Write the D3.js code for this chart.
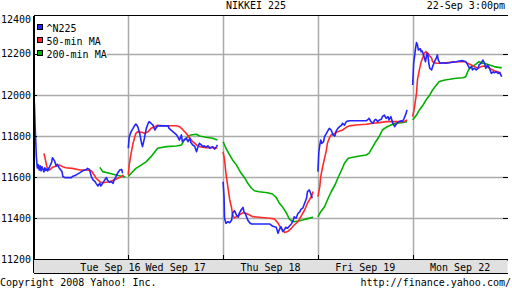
<!DOCTYPE html>
<html><head><meta charset="utf-8">
<script src="https://cdn.jsdelivr.net/npm/d3@7"></script>
<style>
html,body{margin:0;padding:0;background:#fff;}
svg text{font-family:"DejaVu Sans Mono",monospace;font-size:10px;fill:#000;}
</style></head>
<body><svg id="c" width="512" height="288"></svg>
<script>
const title = "NIKKEI 225";
const stamp = "22-Sep 3:00pm";
const days = ["Tue Sep 16","Wed Sep 17","Thu Sep 18","Fri Sep 19","Mon Sep 22"];
const yTicks = [11200,11400,11600,11800,12000,12200,12400];
const seriesNames = ["^N225","50-min MA","200-min MA"];
const seriesColors = ["#2424ff","#ff2b2b","#00b000"];

// each day: [fraction of the trading day, value]
const n225 = [
 [[0,12024],[0.01,11951],[0.02,11815],[0.03,11698],[0.04,11644],[0.05,11660],[0.06,11634],[0.07,11655],[0.08,11630],[0.09,11650],[0.11,11625],[0.12,11645],[0.13,11632],[0.14,11640],[0.15,11630],[0.17,11650],[0.19,11670],[0.2,11694],[0.22,11680],[0.24,11654],[0.25,11662],[0.27,11645],[0.3,11627],[0.31,11602],[0.33,11597],[0.4,11597],[0.41,11602],[0.45,11610],[0.49,11621],[0.52,11630],[0.56,11637],[0.57,11642],[0.59,11637],[0.6,11620],[0.61,11602],[0.63,11585],[0.65,11577],[0.66,11569],[0.68,11556],[0.7,11570],[0.71,11556],[0.73,11570],[0.75,11585],[0.77,11597],[0.78,11585],[0.8,11574],[0.82,11577],[0.84,11569],[0.85,11585],[0.87,11602],[0.89,11621],[0.91,11634],[0.93,11637],[0.94,11618]],
 [[0,11740],[0.01,11796],[0.03,11821],[0.05,11837],[0.07,11853],[0.08,11858],[0.1,11845],[0.12,11813],[0.14,11764],[0.15,11748],[0.17,11789],[0.19,11837],[0.21,11862],[0.22,11870],[0.24,11862],[0.26,11853],[0.28,11829],[0.29,11837],[0.31,11849],[0.35,11849],[0.42,11849],[0.43,11837],[0.47,11821],[0.51,11805],[0.54,11780],[0.56,11805],[0.57,11772],[0.61,11789],[0.63,11772],[0.65,11789],[0.66,11768],[0.68,11756],[0.7,11750],[0.72,11723],[0.73,11740],[0.75,11764],[0.77,11756],[0.79,11748],[0.8,11752],[0.82,11745],[0.84,11752],[0.86,11740],[0.89,11748],[0.91,11736],[0.93,11748],[0.94,11756]],
 [[0,11577],[0.01,11504],[0.015,11399],[0.03,11374],[0.05,11382],[0.07,11377],[0.09,11390],[0.1,11423],[0.12,11436],[0.14,11415],[0.16,11404],[0.17,11423],[0.19,11439],[0.21,11452],[0.22,11431],[0.24,11415],[0.26,11390],[0.28,11377],[0.3,11371],[0.49,11371],[0.52,11361],[0.56,11355],[0.58,11326],[0.59,11340],[0.61,11358],[0.63,11334],[0.65,11345],[0.66,11355],[0.68,11350],[0.7,11361],[0.72,11371],[0.74,11390],[0.75,11406],[0.77,11399],[0.79,11423],[0.81,11431],[0.82,11442],[0.84,11448],[0.86,11472],[0.88,11496],[0.89,11529],[0.91,11537],[0.93,11512],[0.94,11496]],
 [[0,11626],[0.01,11723],[0.02,11756],[0.03,11780],[0.04,11764],[0.06,11772],[0.07,11797],[0.09,11813],[0.1,11821],[0.12,11837],[0.14,11829],[0.16,11805],[0.18,11800],[0.19,11821],[0.21,11837],[0.23,11845],[0.25,11853],[0.26,11862],[0.28,11853],[0.3,11870],[0.33,11874],[0.51,11874],[0.53,11881],[0.54,11886],[0.56,11870],[0.58,11862],[0.6,11878],[0.61,11881],[0.63,11870],[0.65,11878],[0.67,11881],[0.68,11894],[0.7,11902],[0.72,11886],[0.74,11894],[0.75,11878],[0.77,11894],[0.79,11862],[0.81,11845],[0.82,11853],[0.84,11865],[0.86,11870],[0.88,11874],[0.89,11870],[0.91,11886],[0.93,11910],[0.94,11927]],
 [[0,12048],[0.01,12154],[0.03,12227],[0.04,12255],[0.05,12244],[0.06,12219],[0.08,12225],[0.09,12211],[0.1,12214],[0.12,12186],[0.135,12162],[0.15,12203],[0.16,12195],[0.17,12154],[0.18,12130],[0.2,12122],[0.21,12138],[0.23,12162],[0.25,12180],[0.26,12195],[0.27,12170],[0.29,12154],[0.32,12157],[0.35,12154],[0.39,12157],[0.42,12160],[0.46,12162],[0.49,12165],[0.53,12167],[0.56,12162],[0.58,12146],[0.6,12130],[0.62,12138],[0.63,12122],[0.65,12130],[0.67,12122],[0.69,12130],[0.7,12146],[0.72,12154],[0.74,12170],[0.76,12154],[0.77,12130],[0.78,12138],[0.79,12146],[0.81,12130],[0.83,12105],[0.85,12113],[0.86,12108],[0.88,12113],[0.9,12105],[0.92,12108],[0.93,12097],[0.94,12089]]
];
const ma50 = [
 [[0.11,11715],[0.13,11675],[0.14,11650],[0.17,11634],[0.2,11647],[0.24,11654],[0.27,11659],[0.31,11650],[0.34,11645],[0.41,11642],[0.49,11634],[0.56,11634],[0.61,11630],[0.64,11610],[0.66,11594],[0.7,11577],[0.73,11572],[0.8,11577],[0.85,11585],[0.89,11594],[0.93,11602],[0.95,11610]],
 [[0,11610],[0.01,11659],[0.03,11716],[0.05,11764],[0.07,11797],[0.08,11813],[0.1,11821],[0.14,11818],[0.17,11813],[0.21,11821],[0.24,11837],[0.28,11845],[0.31,11852],[0.36,11850],[0.51,11850],[0.54,11845],[0.57,11833],[0.61,11813],[0.65,11789],[0.68,11772],[0.72,11756],[0.75,11748],[0.82,11743],[0.89,11743],[0.94,11740]],
 [[0,11723],[0.015,11683],[0.03,11618],[0.05,11553],[0.07,11488],[0.09,11448],[0.1,11415],[0.12,11399],[0.14,11407],[0.17,11415],[0.21,11426],[0.24,11423],[0.28,11415],[0.31,11407],[0.38,11404],[0.49,11399],[0.54,11396],[0.58,11375],[0.61,11350],[0.65,11329],[0.68,11334],[0.72,11350],[0.75,11366],[0.79,11382],[0.82,11407],[0.86,11439],[0.89,11472],[0.93,11504],[0.95,11529]],
 [[0,11504],[0.02,11553],[0.03,11602],[0.05,11650],[0.07,11691],[0.09,11732],[0.1,11764],[0.12,11789],[0.14,11805],[0.18,11813],[0.21,11821],[0.26,11829],[0.3,11842],[0.33,11849],[0.4,11853],[0.51,11857],[0.58,11862],[0.65,11865],[0.72,11870],[0.86,11870],[0.91,11870],[0.94,11878]],
 [[0,11894],[0.02,11943],[0.04,12008],[0.05,12073],[0.07,12122],[0.09,12162],[0.11,12186],[0.12,12203],[0.14,12211],[0.16,12203],[0.18,12190],[0.2,12179],[0.21,12162],[0.25,12154],[0.3,12154],[0.35,12157],[0.42,12160],[0.49,12162],[0.55,12162],[0.58,12154],[0.62,12146],[0.65,12138],[0.69,12130],[0.72,12138],[0.76,12141],[0.79,12135],[0.83,12125],[0.86,12118],[0.9,12113],[0.93,12105]]
];
const ma200 = [
 [[0.7,11647],[0.73,11626],[0.8,11618],[0.87,11610],[0.94,11602],[0.97,11600]],
 [[0,11602],[0.03,11618],[0.08,11642],[0.14,11659],[0.19,11675],[0.24,11699],[0.28,11723],[0.31,11740],[0.4,11748],[0.51,11751],[0.56,11756],[0.59,11780],[0.63,11797],[0.66,11805],[0.72,11808],[0.75,11800],[0.82,11794],[0.89,11789],[0.94,11780]],
 [[0,11772],[0.03,11740],[0.07,11707],[0.1,11683],[0.14,11659],[0.19,11618],[0.23,11594],[0.26,11569],[0.3,11545],[0.33,11533],[0.38,11528],[0.47,11523],[0.52,11517],[0.56,11501],[0.59,11475],[0.63,11452],[0.67,11423],[0.7,11394],[0.74,11382],[0.79,11385],[0.84,11390],[0.89,11397],[0.95,11404]],
 [[0,11406],[0.03,11431],[0.07,11455],[0.1,11488],[0.14,11528],[0.18,11561],[0.21,11594],[0.25,11634],[0.28,11667],[0.32,11691],[0.37,11696],[0.44,11702],[0.51,11707],[0.54,11716],[0.58,11748],[0.61,11772],[0.65,11800],[0.68,11829],[0.72,11842],[0.77,11853],[0.82,11862],[0.88,11865],[0.94,11870]],
 [[0,11878],[0.04,11902],[0.07,11927],[0.11,11951],[0.14,11975],[0.18,12000],[0.21,12024],[0.25,12048],[0.28,12065],[0.34,12073],[0.39,12076],[0.46,12081],[0.53,12084],[0.56,12089],[0.58,12113],[0.6,12130],[0.63,12138],[0.67,12151],[0.7,12162],[0.74,12154],[0.78,12151],[0.81,12146],[0.86,12138],[0.92,12133],[0.94,12133]]
];

const svg = d3.select("#c");
const L = 34, R = 507.5, T = 15.5, B = 260, BandB = 273;
const x = d3.scaleLinear().domain([0, days.length]).range([33.5, 507.5]);
const y = d3.scaleLinear().domain([11200, 12400]).range([259.05, 12.85]);

// clip
svg.append("defs").append("clipPath").attr("id","clip")
  .append("rect").attr("x",L).attr("y",T).attr("width",R-L+2).attr("height",B-T);

// grid
const g = svg.append("g");
g.selectAll(".hg").data(yTicks.filter(v => y(v) > T + 2 && y(v) < B - 2)).join("line")
  .attr("x1",L).attr("x2",R).attr("y1",d=>Math.round(y(d))+0.5).attr("y2",d=>Math.round(y(d))+0.5)
  .attr("stroke","#aaaaaa").attr("stroke-width",1.5);
g.selectAll(".vg").data(d3.range(1, days.length)).join("line")
  .attr("x1",d=>Math.round(x(d))+0.5).attr("x2",d=>Math.round(x(d))+0.5).attr("y1",T).attr("y2",B)
  .attr("stroke","#aaaaaa").attr("stroke-width",1.5);

// legend background
svg.append("rect").attr("x",35).attr("y",20).attr("width",72).attr("height",40).attr("fill","#fff");

// lines
const line = d3.line().x(d=>x(d[0])).y(d=>y(d[1]));
const lg = svg.append("g").attr("clip-path","url(#clip)");
[ma200, ma50, n225].forEach((s, k) => {
  const ci = 2 - k;
  s.forEach((dayPts, di) => {
    lg.append("path").datum(dayPts.map(p => [di + p[0], p[1]]))
      .attr("d", line).attr("fill","none").attr("stroke", seriesColors[ci])
      .attr("stroke-width",1.6).attr("stroke-linejoin","round");
  });
});

// axes frame
const frame = svg.append("g").attr("stroke","#000").attr("shape-rendering","crispEdges");
svg.append("rect").attr("x",L).attr("y",B).attr("width",R-L).attr("height",BandB-B).attr("fill","#e0e0e0");
frame.append("line").attr("x1",L).attr("x2",R).attr("y1",T).attr("y2",T).attr("stroke-width",1.5);
frame.append("line").attr("x1",L).attr("x2",L).attr("y1",T).attr("y2",BandB).attr("stroke-width",2);
frame.append("line").attr("x1",L).attr("x2",R).attr("y1",B).attr("y2",B).attr("stroke-width",1.5);
frame.append("line").attr("x1",L).attr("x2",R).attr("y1",BandB).attr("y2",BandB).attr("stroke-width",1);
// day ticks
frame.selectAll(".dt").data(d3.range(1, days.length)).join("line")
  .attr("x1",d=>Math.round(x(d))).attr("x2",d=>Math.round(x(d))).attr("y1",B-5).attr("y2",B);
// y ticks
const yt = yTicks.filter(v => y(v) > T + 2 && y(v) < B - 2);
frame.selectAll(".yl").data(yt).join("line")
  .attr("x1",L).attr("x2",L+3).attr("y1",d=>Math.round(y(d))).attr("y2",d=>Math.round(y(d)));
frame.selectAll(".yr").data(yt).join("line")
  .attr("x1",R-5).attr("x2",R).attr("y1",d=>Math.round(y(d))).attr("y2",d=>Math.round(y(d)));

// y labels
svg.selectAll(".ylab").data(yTicks).join("text")
  .attr("x",31).attr("y",d=>Math.max(y(d), T + 4)).attr("dy","0.36em")
  .attr("text-anchor","end").text(d=>d);

// x labels
const xl = svg.selectAll(".xlab").data(days).join("text")
  .attr("x",(d,i)=>x(i+0.5)).attr("y",270.5).attr("text-anchor","middle").text(d=>d);
const wedNode = xl.nodes()[1];
const wedStart = x(1.5) - wedNode.getComputedTextLength()/2;
d3.select(xl.nodes()[0]).attr("text-anchor","end").attr("x", wedStart - 5);

// legend
seriesNames.forEach((n,i) => {
  svg.append("rect").attr("x",37.5).attr("y",24.5 + i*13).attr("width",5).attr("height",5)
    .attr("fill",seriesColors[i]).attr("stroke","#000").attr("stroke-width",1);
  svg.append("text").attr("x",46.5).attr("y",32 + i*13).text(n);
});

// title / footer
svg.append("text").attr("x",256).attr("y",9).attr("text-anchor","middle").text(title);
svg.append("text").attr("x",505).attr("y",9).attr("text-anchor","end").text(stamp);
svg.append("text").attr("x",0).attr("y",285.5).text("Copyright 2008 Yahoo! Inc.");
svg.append("text").attr("x",511).attr("y",285.5).attr("text-anchor","end").text("http://finance.yahoo.com/");
</script></body></html>
